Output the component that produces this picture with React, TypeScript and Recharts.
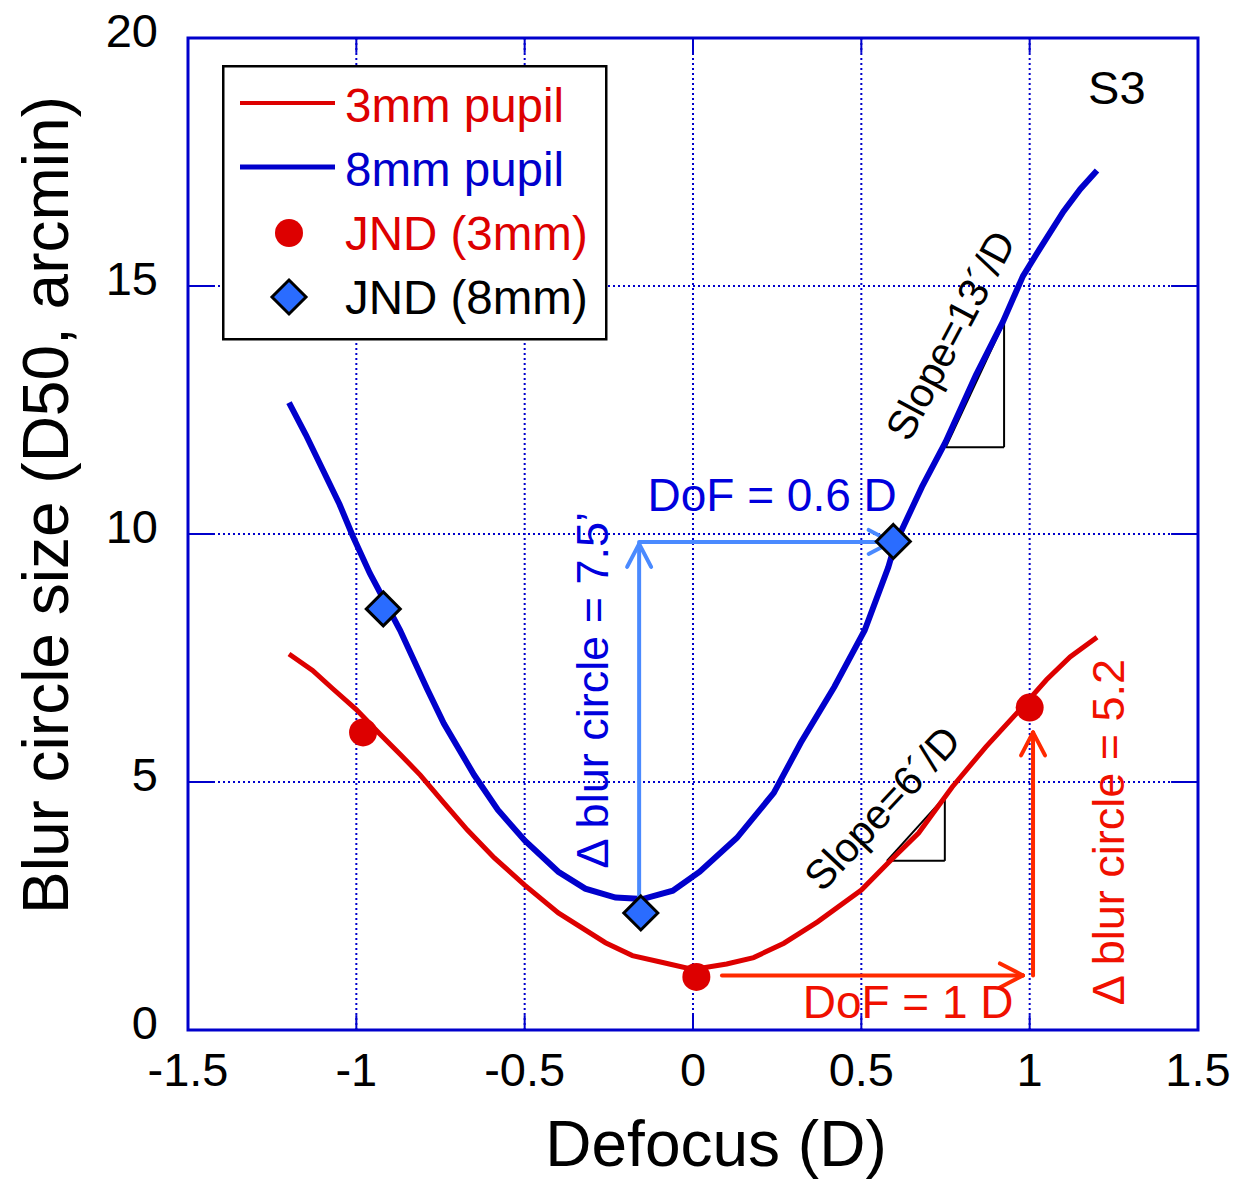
import {
  ComposedChart,
  Line,
  Scatter,
  XAxis,
  YAxis,
  CartesianGrid,
  ReferenceLine,
  ReferenceDot,
  ReferenceArea,
  Legend,
  Label,
} from "recharts";

const FONT = '"Liberation Sans", Arial, Helvetica, sans-serif';
const RED = "#dd0000";
const BLUE = "#0000cc";
const ARROW_BLUE = "#4a8aff";
const ARROW_RED = "#ff2a00";
const DIAMOND = "#2a6cff";

const X_TICKS = [-1.5, -1, -0.5, 0, 0.5, 1, 1.5];
const Y_TICKS = [0, 5, 10, 15, 20];
const X_GRID = [-1, -0.5, 0, 0.5, 1];
const Y_GRID = [5, 10, 15];

// 3mm pupil blur curve
const PUPIL3_X = [-1.2, -1.13, -1.07, -1.0, -0.93, -0.87, -0.81, -0.74, -0.67, -0.59, -0.5, -0.4, -0.26, -0.18, -0.09, 0.0, 0.1, 0.18, 0.27, 0.37, 0.5, 0.58, 0.67, 0.77, 0.87, 0.97, 1.05, 1.12, 1.2];
const PUPIL3_Y = [7.58, 7.25, 6.88, 6.46, 5.97, 5.56, 5.14, 4.58, 4.03, 3.47, 2.92, 2.36, 1.76, 1.5, 1.36, 1.22, 1.33, 1.46, 1.75, 2.18, 2.82, 3.37, 3.97, 4.9, 5.71, 6.45, 7.06, 7.52, 7.92];

// 8mm pupil blur curve
const PUPIL8_X = [-1.2, -1.15, -1.1, -1.05, -1.01, -0.96, -0.92, -0.87, -0.79, -0.74, -0.65, -0.58, -0.5, -0.4, -0.32, -0.23, -0.15, -0.06, 0.02, 0.13, 0.24, 0.32, 0.42, 0.51, 0.58, 0.6, 0.68, 0.75, 0.84, 0.92, 0.98, 1.03, 1.1, 1.15, 1.2];
const PUPIL8_Y = [12.65, 12.0, 11.3, 10.6, 9.95, 9.21, 8.7, 8.06, 6.88, 6.18, 5.14, 4.44, 3.82, 3.19, 2.85, 2.67, 2.64, 2.81, 3.19, 3.87, 4.78, 5.79, 6.92, 8.06, 9.33, 9.79, 10.95, 11.85, 13.2, 14.27, 15.2, 15.75, 16.5, 16.95, 17.33];

// just-noticeable-difference points
const JND3_X = [-0.98, 0.01, 1.0];
const JND3_Y = [6.0, 1.07, 6.5];
const JND8_X = [-0.92, -0.155, 0.595];
const JND8_Y = [8.49, 2.36, 9.85];

type Pt = { x: number; y: number };
const zip = (xs: number[], ys: number[]): Pt[] => xs.map((x, i) => ({ x, y: ys[i] }));

const pupil3 = zip(PUPIL3_X, PUPIL3_Y);
const pupil8 = zip(PUPIL8_X, PUPIL8_Y);
const jnd3 = zip(JND3_X, JND3_Y);
const jnd8 = zip(JND8_X, JND8_Y);

// px per unit, used only to shape arrow heads
const PX_X = 336.7;
const PX_Y = 49.6;

function arrow(from: Pt, to: Pt): Pt[][] {
  const dx = (to.x - from.x) * PX_X;
  const dy = (to.y - from.y) * PX_Y;
  const len = Math.hypot(dx, dy);
  const ux = dx / len;
  const uy = dy / len;
  const L = 23;
  const W = 12;
  const barb = (s: number) => ({
    x: to.x + (-ux * L - s * uy * W) / PX_X,
    y: to.y + (-uy * L + s * ux * W) / PX_Y,
  });
  return [[from, to], [barb(1), to], [barb(-1), to]];
}

const blueArrows = [
  ...arrow({ x: -0.16, y: 2.65 }, { x: -0.16, y: 9.8 }),
  ...arrow({ x: -0.16, y: 9.84 }, { x: 0.59, y: 9.84 }),
];
const redArrows = [
  ...arrow({ x: 0.086, y: 1.1 }, { x: 0.98, y: 1.1 }),
  ...arrow({ x: 1.01, y: 1.1 }, { x: 1.01, y: 6.0 }),
];

const slopeLines: Pt[][] = [
  [{ x: 0.751, y: 11.75 }, { x: 0.924, y: 11.75 }],
  [{ x: 0.924, y: 11.75 }, { x: 0.924, y: 14.27 }],
  [{ x: 0.751, y: 11.75 }, { x: 0.924, y: 14.27 }],
  [{ x: 0.576, y: 3.41 }, { x: 0.748, y: 3.41 }],
  [{ x: 0.748, y: 3.41 }, { x: 0.748, y: 4.7 }],
  [{ x: 0.576, y: 3.41 }, { x: 0.748, y: 4.7 }],
];

const borderTicks: Pt[][] = [
  ...Y_GRID.map((v) => [{ x: -1.5, y: v }, { x: -1.42, y: v }]),
  ...Y_GRID.map((v) => [{ x: 1.42, y: v }, { x: 1.5, y: v }]),
  ...X_GRID.map((v) => [{ x: v, y: 0 }, { x: v, y: 0.3 }]),
  ...X_GRID.map((v) => [{ x: v, y: 19.7 }, { x: v, y: 20 }]),
];

const notes = [
  { x: 1.259, y: 19.01, text: "S3", color: "#000", size: 47, angle: 0 },
  { x: 0.235, y: 10.79, text: "DoF = 0.6 D", color: "#0000dd", size: 46, angle: 0 },
  { x: -0.3, y: 6.85, text: "\u0394 blur circle = 7.5\u2019", color: "#0000dd", size: 45, angle: -90 },
  { x: 0.639, y: 0.585, text: "DoF = 1 D", color: "#f01000", size: 46, angle: 0 },
  { x: 1.233, y: 3.99, text: "\u0394 blur circle = 5.2", color: "#f01000", size: 45, angle: -90 },
  { x: 0.763, y: 14.01, text: "Slope=13\u00b4/D", color: "#000", size: 41, angle: -62 },
  { x: 0.561, y: 4.48, text: "Slope=6\u00b4/D", color: "#000", size: 41, angle: -47 },
];

const RedDot = (p: any) => <circle cx={p.cx} cy={p.cy} r={14} fill={RED} />;

const Diamond = (p: any) => {
  const s = 17;
  const { cx, cy } = p;
  return (
    <polygon
      points={`${cx},${cy - s} ${cx + s},${cy} ${cx},${cy + s} ${cx - s},${cy}`}
      fill={DIAMOND}
      stroke="#000"
      strokeWidth={3}
    />
  );
};

const noteShape = (n: (typeof notes)[number]) => (p: any) => (
  <text
    x={p.cx}
    y={p.cy}
    dy="0.36em"
    transform={`rotate(${n.angle} ${p.cx} ${p.cy})`}
    textAnchor="middle"
    fill={n.color}
    fontSize={n.size}
    fontFamily={FONT}
  >
    {n.text}
  </text>
);

function LegendBox() {
  const t = { fontSize: 47.5, fontFamily: FONT };
  return (
    <svg width={386} height={276} style={{ display: "block" }}>
      <rect x={1.25} y={1.25} width={383} height={273} fill="#fff" stroke="#000" strokeWidth={2.5} />
      <line x1={18} x2={113} y1={38} y2={38} stroke={RED} strokeWidth={4} />
      <text x={123} y={57} fill={RED} {...t}>3mm pupil</text>
      <line x1={18} x2={113} y1={102} y2={102} stroke={BLUE} strokeWidth={5} />
      <text x={123} y={121} fill={BLUE} {...t}>8mm pupil</text>
      <RedDot cx={67} cy={168} />
      <text x={123} y={185} fill={RED} {...t}>JND (3mm)</text>
      <Diamond cx={67} cy={232} />
      <text x={123} y={249} fill="#000" {...t}>JND (8mm)</text>
    </svg>
  );
}

const XTick = (p: any) => (
  <text x={p.x} y={p.y + 56} textAnchor="middle" fontSize={47} fontFamily={FONT} fill="#000">
    {p.payload.value}
  </text>
);

const YTick = (p: any) => (
  <text x={p.x - 30} y={p.y + 9} textAnchor="end" fontSize={47} fontFamily={FONT} fill="#000">
    {p.payload.value}
  </text>
);

export default function App() {
  return (
    <div style={{ position: "absolute", left: 0, top: 0, background: "#fff" }}>
      <style>{"body{margin:0}"}</style>
      <ComposedChart width={1249} height={1182} margin={{ top: 38, right: 51, bottom: 0, left: 0 }}>
        <CartesianGrid
          stroke={BLUE}
          strokeWidth={2}
          strokeDasharray="2 3"
          horizontalValues={Y_GRID}
          verticalValues={X_GRID}
        />
        <XAxis
          type="number"
          dataKey="x"
          domain={[-1.5, 1.5]}
          ticks={X_TICKS}
          interval={0}
          height={152}
          axisLine={false}
          tickLine={false}
          tickSize={0}
          tickMargin={0}
          tick={XTick}
        >
          <Label
            content={() => (
              <text x={716} y={1166} textAnchor="middle" fontSize={64} fontFamily={FONT} fill="#000">
                Defocus (D)
              </text>
            )}
          />
        </XAxis>
        <YAxis
          type="number"
          dataKey="y"
          domain={[0, 20]}
          ticks={Y_TICKS}
          interval={0}
          width={188}
          axisLine={false}
          tickLine={false}
          tickSize={0}
          tickMargin={0}
          tick={YTick}
        >
          <Label
            content={() => (
              <text
                x={68}
                y={505}
                transform="rotate(-90 68 505)"
                textAnchor="middle"
                fontSize={64}
                fontFamily={FONT}
                fill="#000"
              >
                Blur circle size (D50, arcmin)
              </text>
            )}
          />
        </YAxis>

        {borderTicks.map((seg, i) => (
          <ReferenceLine key={`bt${i}`} segment={seg} stroke={BLUE} strokeWidth={2} ifOverflow="visible" />
        ))}

        {slopeLines.map((seg, i) => (
          <ReferenceLine key={`sl${i}`} segment={seg} stroke="#000" strokeWidth={2} ifOverflow="visible" />
        ))}

        <Line
          data={pupil8}
          dataKey="y"
          name="8mm pupil"
          type="linear"
          stroke={BLUE}
          strokeWidth={6}
          dot={false}
          isAnimationActive={false}
        />
        <Line
          data={pupil3}
          dataKey="y"
          name="3mm pupil"
          type="linear"
          stroke={RED}
          strokeWidth={5}
          dot={false}
          isAnimationActive={false}
        />

        {blueArrows.map((seg, i) => (
          <ReferenceLine
            key={`ba${i}`}
            segment={seg}
            stroke={ARROW_BLUE}
            strokeWidth={4}
            strokeLinecap="round"
            ifOverflow="visible"
          />
        ))}
        {redArrows.map((seg, i) => (
          <ReferenceLine
            key={`ra${i}`}
            segment={seg}
            stroke={ARROW_RED}
            strokeWidth={4}
            strokeLinecap="round"
            ifOverflow="visible"
          />
        ))}

        <Scatter data={jnd3} dataKey="y" name="JND (3mm)" shape={RedDot} isAnimationActive={false} />
        <Scatter data={jnd8} dataKey="y" name="JND (8mm)" shape={Diamond} isAnimationActive={false} />

        {notes.map((n, i) => (
          <ReferenceDot key={`n${i}`} x={n.x} y={n.y} r={0} shape={noteShape(n)} ifOverflow="visible" />
        ))}

        <ReferenceArea
          x1={-1.5}
          x2={1.5}
          y1={0}
          y2={20}
          fill="none"
          stroke={BLUE}
          strokeWidth={3}
          ifOverflow="visible"
        />

        <Legend
          layout="vertical"
          align="center"
          verticalAlign="middle"
          content={LegendBox}
          wrapperStyle={{ left: 222, top: 65, width: 386, height: 276 }}
        />
      </ComposedChart>
    </div>
  );
}
